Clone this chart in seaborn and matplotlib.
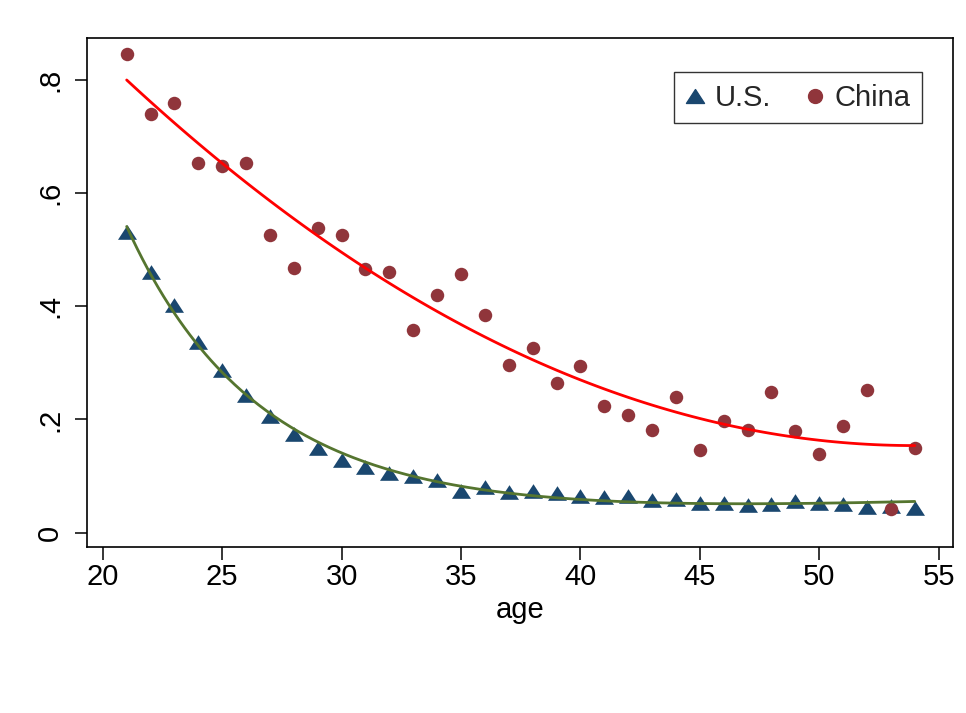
import numpy as np
import pandas as pd
import matplotlib
matplotlib.use("Agg")
import matplotlib.pyplot as plt
import seaborn as sns
from matplotlib.lines import Line2D
from matplotlib.path import Path

# ---- data ----
age = [21, 22, 23, 24, 25, 26, 27, 28, 29, 30, 31, 32, 33, 34, 35, 36, 37,
       38, 39, 40, 41, 42, 43, 44, 45, 46, 47, 48, 49, 50, 51, 52, 53, 54]
us = [0.532, 0.460, 0.402, 0.337, 0.288, 0.243, 0.206, 0.175, 0.150, 0.129,
      0.116, 0.105, 0.100, 0.093, 0.074, 0.081, 0.072, 0.073, 0.070, 0.064,
      0.063, 0.064, 0.057, 0.060, 0.052, 0.052, 0.049, 0.051, 0.055, 0.052,
      0.051, 0.045, 0.047, 0.044]
china = [0.846, 0.740, 0.760, 0.653, 0.647, 0.653, 0.526, 0.467, 0.538, 0.526,
         0.465, 0.460, 0.358, 0.420, 0.457, 0.384, 0.297, 0.327, 0.264, 0.295,
         0.223, 0.207, 0.181, 0.240, 0.146, 0.197, 0.181, 0.248, 0.179, 0.139,
         0.188, 0.252, 0.042, 0.150]
series_labels = ["U.S.", "China"]
x_ticks = [20, 25, 30, 35, 40, 45, 50, 55]
y_ticks = [0, 0.2, 0.4, 0.6, 0.8]
y_tick_labels = ["0", ".2", ".4", ".6", ".8"]

df = pd.DataFrame({"age": age, "us": us, "china": china})

# fractional-polynomial fit (powers -2, -2) for the U.S. series
xa = np.asarray(age, dtype=float)
X = np.column_stack([np.ones_like(xa), xa ** -2.0, np.log(xa) * xa ** -2.0])
coef, *_ = np.linalg.lstsq(X, np.asarray(us), rcond=None)
grid = np.linspace(xa.min(), xa.max(), 300)
fit_df = pd.DataFrame({"age": grid,
                       "fit": coef[0] + coef[1] * grid ** -2.0
                       + coef[2] * np.log(grid) * grid ** -2.0})

US_COL = "#1a476f"
CN_COL = "#90353b"
US_FIT = "#55752f"
CN_FIT = "#ff0000"

sns.set_theme(style="white")
plt.rcParams['font.family'] = ['Liberation Sans', 'DejaVu Sans']

fig = plt.figure(figsize=(9.66, 7.13), dpi=100)
ax = fig.add_axes([0.0901, 0.2328, 0.8964, 0.7139])

tri = Path([(-1, -0.77), (1, -0.77), (0, 0.77), (-1, -0.77)],
           [Path.MOVETO, Path.LINETO, Path.LINETO, Path.CLOSEPOLY])

sns.scatterplot(data=df, x="age", y="us", marker=tri, s=187, color=US_COL,
                linewidth=0, ax=ax, zorder=2)
sns.scatterplot(data=df, x="age", y="china", marker="o", s=94, color=CN_COL,
                linewidth=0, ax=ax, zorder=3)
sns.lineplot(data=fit_df, x="age", y="fit", color=US_FIT, lw=2.0, ax=ax,
             zorder=4)
sns.regplot(data=df, x="age", y="china", order=2, ci=None, scatter=False,
            line_kws=dict(color=CN_FIT, lw=2.0, zorder=4), ax=ax)

ax.set_xlim(19.34, 55.6)
ax.set_ylim(-0.0255, 0.874)
ax.set_xticks(x_ticks)
ax.set_yticks(y_ticks)
ax.set_yticklabels(y_tick_labels, rotation=90, va="center")
ax.tick_params(axis="both", which="both", bottom=True, left=True, direction="out",
               length=9, width=1.1, color="black", labelsize=21, labelcolor="black")
ax.tick_params(axis="x", pad=2.5)
ax.tick_params(axis="y", pad=7.6)
ax.set_xlabel("age", fontsize=21, color="black", labelpad=3.5)
ax.set_ylabel("")

for sp in ax.spines.values():
    sp.set_visible(True)
    sp.set_color("black")
    sp.set_linewidth(1.2)

handles = [
    Line2D([], [], marker=tri, color=US_COL, linestyle="none", markersize=13),
    Line2D([], [], marker="o", color=CN_COL, linestyle="none", markersize=10),
]
leg = ax.legend(handles, series_labels, ncol=2, loc="upper right",
                bbox_to_anchor=(0.964, 0.933), frameon=True, fancybox=False,
                edgecolor="black", fontsize=21, borderpad=0.4,
                handlelength=0.62, handletextpad=0.35, columnspacing=1.2,
                borderaxespad=0)
leg.get_frame().set_linewidth(1.0)

fig.savefig("out.png", dpi=100, facecolor="white")
